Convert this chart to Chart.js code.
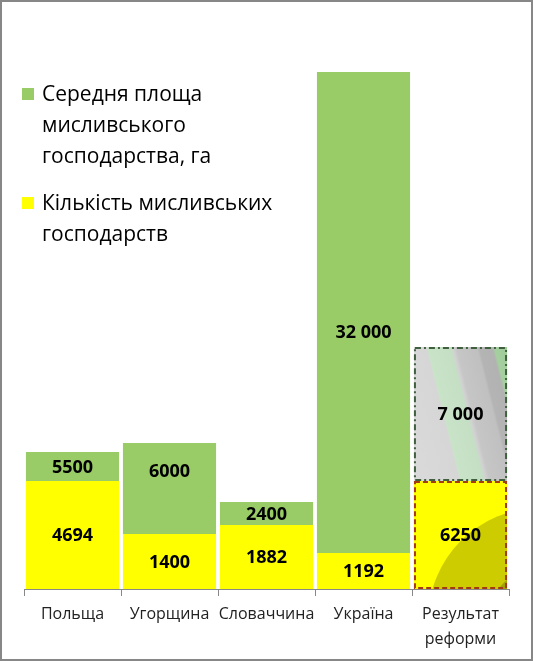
<!DOCTYPE html>
<html>
<head>
<meta charset="utf-8">
<script src="https://cdn.jsdelivr.net/npm/chart.js@4"></script>
<style>
  html, body { margin: 0; padding: 0; background: #fff; }
  canvas { display: block; }
</style>
</head>
<body>
<canvas id="chart" width="533" height="661"></canvas>
<script>
// categories (the last one has a two-line label)
const countries = ['Польща', 'Угорщина', 'Словаччина', 'Україна', ['Результат', 'реформи']];

// bar heights as drawn in the picture (the picture is not to scale with its labels)
const countHeights = [108, 55, 64, 36, 108];
const areaHeights = [29, 91, 23, 481, 134];

// the numbers printed on the bars
const countLabels = ['4694', '1400', '1882', '1192', '6250'];
const areaLabels = ['5500', '6000', '2400', '32 000', '7 000'];

const legendItems = [
    { color: '#99cc66', lines: ['Середня площа', 'мисливського', 'господарства, га'] },
    { color: '#ffff00', lines: ['Кількість мисливських', 'господарств'] }
];

const FONT = '"Open Sans", "Liberation Sans", sans-serif';
const GREEN = '#99cc66';
const YELLOW = '#ffff00';
const last = countries.length - 1;

const colorsFor = (base) => countries.map((c, i) => i === last ? 'rgba(0,0,0,0)' : base);

const decorations = {
    id: 'decorations',
    afterDatasetsDraw(chart) {
        const ctx = chart.ctx;
        const yBar = chart.getDatasetMeta(0).data[last];
        const gBar = chart.getDatasetMeta(1).data[last];

        // reform bar, count part: yellow with olive circles in the corner
        let left = yBar.x - yBar.width / 2, right = yBar.x + yBar.width / 2;
        ctx.save();
        ctx.beginPath();
        ctx.rect(left, yBar.y, right - left, yBar.base - yBar.y);
        ctx.clip();
        ctx.fillStyle = YELLOW;
        ctx.fillRect(left, yBar.y, right - left, yBar.base - yBar.y);
        ctx.fillStyle = '#cccc00';
        ctx.beginPath();
        ctx.arc(right + 33, yBar.base + 31, 112, 0, Math.PI * 2);
        ctx.fill();
        ctx.fillStyle = '#a3a300';
        ctx.beginPath();
        ctx.arc(right + 33, yBar.base + 31, 52, 0, Math.PI * 2);
        ctx.fill();
        ctx.restore();

        // reform bar, area part: grey/green diagonal streaks
        const top = gBar.y, bottom = gBar.base;
        const w = right - left, h = bottom - top;
        const s = (w + 0.25 * h) / 1.0625;
        const grad = ctx.createLinearGradient(left, bottom, left + s, bottom - 0.25 * s);
        [[0, '#dadada'], [0.36, '#d6d6d6'], [0.37, '#c9e3c9'], [0.55, '#c4dfc4'],
         [0.57, '#d2d2d2'], [0.6, '#c6c6c6'], [0.76, '#c0c0c0'], [0.78, '#b4b4b4'],
         [0.88, '#b2b2b2'], [0.9, '#a5cf9f'], [1, '#9fcb98']].forEach(([t, c]) => grad.addColorStop(t, c));
        ctx.save();
        ctx.fillStyle = grad;
        ctx.fillRect(left, top, w, h);

        ctx.lineWidth = 2;
        ctx.strokeStyle = '#3f5f3f';
        ctx.setLineDash([6, 3, 2, 3]);
        ctx.strokeRect(left + 1, top + 1, w - 2, h - 2);
        ctx.strokeStyle = '#a33a12';
        ctx.setLineDash([5, 3]);
        ctx.strokeRect(left + 1, yBar.y + 1, w - 2, yBar.base - yBar.y - 2);
        ctx.restore();

        // value labels
        const shift = { '1-1': -18, '1-3': 19 };
        ctx.save();
        ctx.fillStyle = '#000';
        ctx.font = 'bold 18px ' + FONT;
        ctx.textAlign = 'center';
        ctx.textBaseline = 'middle';
        [countLabels, areaLabels].forEach((labels, d) => {
            chart.getDatasetMeta(d).data.forEach((bar, i) => {
                const y = (bar.y + bar.base) / 2 + (shift[d + '-' + i] || 0);
                ctx.fillText(labels[i], bar.x, y + 1);
            });
        });
        ctx.restore();
    },
    afterDraw(chart) {
        const ctx = chart.ctx;
        ctx.save();
        // legend
        ctx.font = '21px ' + FONT;
        ctx.textBaseline = 'alphabetic';
        ctx.textAlign = 'left';
        let y = 101;
        legendItems.forEach((item) => {
            ctx.fillStyle = item.color;
            ctx.fillRect(22, y - 13, 12, 12);
            ctx.fillStyle = '#000';
            item.lines.forEach((line, j) => ctx.fillText(line, 42, y + j * 31));
            y += item.lines.length * 31 + 16;
        });
        // outer frame
        ctx.strokeStyle = '#878787';
        ctx.lineWidth = 2;
        ctx.strokeRect(1, 1, chart.width - 2, chart.height - 2);
        ctx.restore();
    }
};

new Chart(document.getElementById('chart').getContext('2d'), {
    type: 'bar',
    data: {
        labels: countries,
        datasets: [
            { label: 'Кількість мисливських господарств', data: countHeights, backgroundColor: colorsFor(YELLOW) },
            { label: 'Середня площа мисливського господарства, га', data: areaHeights, backgroundColor: colorsFor(GREEN) }
        ]
    },
    options: {
        responsive: false,
        animation: false,
        layout: { padding: { top: 29, left: 24, right: 24, bottom: 0 } },
        categoryPercentage: 1,
        barPercentage: 0.96,
        plugins: {
            legend: { display: false },
            tooltip: { enabled: false }
        },
        scales: {
            x: {
                stacked: true,
                afterFit(scale) { scale.height = 72; },
                grid: {
                    offset: true,
                    drawOnChartArea: false,
                    drawTicks: true,
                    tickLength: 7,
                    color: '#888'
                },
                border: { display: true, color: '#888', width: 1 },
                ticks: {
                    color: '#222',
                    padding: 6,
                    maxRotation: 0,
                    autoSkip: false,
                    font: { family: FONT, size: 16, lineHeight: 1.55 }
                }
            },
            y: {
                stacked: true,
                display: false,
                min: 0,
                max: 560
            }
        }
    },
    plugins: [decorations]
});
</script>
</body>
</html>
